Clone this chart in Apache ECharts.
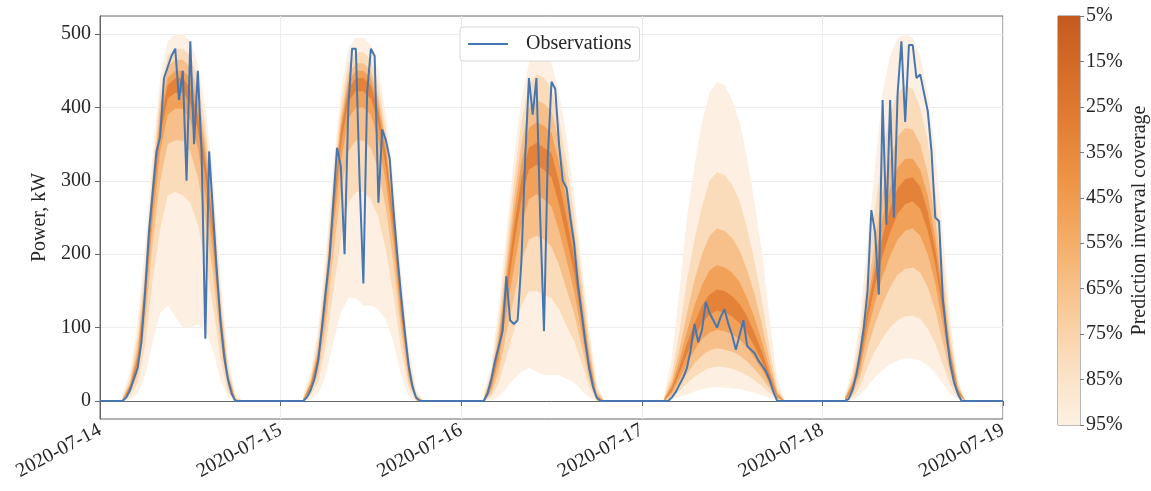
<!DOCTYPE html>
<html><head><meta charset="utf-8">
<script src="https://cdn.jsdelivr.net/npm/echarts@6/dist/echarts.min.js"></script>
<style>html,body{margin:0;padding:0;background:#fff}#c{width:1151px;height:491px}</style>
</head><body><div id="c"></div>
<script>
// ---------------- DATA ----------------
const xTickLabels = ['2020-07-14','2020-07-15','2020-07-16','2020-07-17','2020-07-18','2020-07-19'];
const yTicks = [0, 100, 200, 300, 400, 500];
const coverageTicks = [5, 15, 25, 35, 45, 55, 65, 75, 85, 95];

// hours of day (UTC) of the observation samples and of the forecast quantiles
const obsHours = [3,3.5,4,4.5,5,5.5,6,6.5,7,7.5,8,8.5,9,9.5,10,10.5,11,11.5,12,12.5,13,13.5,14,14.5,15,15.5,16,16.5,17,17.5,18,18.5];
const bandHours = [3,4,5,6,7,8,9,10,11,12,13,14,15,16,17,18,19];
const obsEdges = [0, 0]; // 2020-07-14 00:00 and 2020-07-19 00:00

// Observations, kW
const obs14 = [0,5,15,30,45,80,150,230,285,340,360,440,455,470,480,410,450,300,490,350,450,340,85,340,260,180,110,60,30,10,0,0];
const obs15 = [0,5,15,30,55,100,150,195,270,345,320,200,400,480,480,300,160,420,480,470,270,370,355,330,260,200,145,95,50,20,5,0];
const obs16 = [0,10,30,55,75,95,170,110,105,110,190,330,440,390,440,250,95,330,435,425,350,300,290,250,215,160,120,80,45,20,5,0];
const obs17 = [0,0,5,12,22,32,45,70,105,80,97,135,120,110,100,115,125,105,90,70,90,110,75,70,65,55,48,40,28,12,0,0];
const obs18 = [0,3,15,35,65,100,150,260,230,145,410,240,410,250,420,490,380,485,485,440,445,420,395,340,250,245,140,90,50,25,10,0];

// Prediction interval bounds (kW), one line per day (07-14 ... 07-18), at bandHours
const lo95 = [
  0,2,10,35,80,120,130,115,100,100,105,95,70,30,5,0,0,
  0,2,10,35,80,120,140,140,130,130,125,110,80,35,7,0,0,
  0,1,6,18,30,40,45,40,35,35,35,30,25,15,5,0,0,
  0,2,5,9,13,16,18,19,18,17,16,14,11,8,4,1,0,
  0,1,8,20,32,42,50,55,58,58,55,48,38,24,10,2,0];
const hi95 = [
  10,40,110,210,340,440,490,500,500,490,460,400,310,170,60,10,0,
  8,40,100,200,320,420,480,495,495,485,450,390,300,180,75,15,0,
  10,50,130,230,330,410,460,480,475,460,420,360,280,190,100,25,0,
  10,60,150,250,320,380,420,435,430,410,380,330,270,200,110,30,0,
  8,45,110,220,320,420,470,495,500,495,470,420,340,230,110,30,0];
const lo75 = [
  0,7,25,75,165,235,280,285,280,270,240,190,130,58,12,0,0,
  0,8,26,75,150,220,270,285,285,275,250,205,145,72,19,0,0,
  0,6,25,60,95,130,150,150,145,140,125,102,82,52,20,0,0,
  0,5,14,24,33,40,45,47,46,44,40,35,28,20,11,2,0,
  0,5,20,46,68,86,100,110,115,116,112,98,78,50,23,4,0];
const hi75 = [
  5,30,90,185,315,420,470,480,480,470,440,375,285,150,48,5,0,
  5,32,85,180,300,400,460,475,475,465,430,370,280,160,62,10,0,
  6,40,110,205,300,380,430,445,440,425,385,325,255,170,85,18,0,
  6,38,95,165,220,265,300,312,308,295,272,235,190,135,72,18,0,
  5,35,88,180,262,340,390,420,430,425,400,355,285,192,90,24,0];
const lo55 = [
  0,11,36,105,215,300,350,355,355,340,305,245,175,80,18,0,0,
  0,12,38,102,200,285,340,355,355,345,315,262,188,96,28,1,0,
  0,11,40,92,140,190,220,225,220,210,185,152,120,75,29,1,0,
  0,8,22,37,51,62,69,72,70,67,62,54,43,31,17,3,0,
  0,9,32,72,105,132,155,172,180,182,175,155,124,80,37,7,0];
const hi55 = [
  3,25,75,170,300,405,455,465,465,455,420,355,265,135,40,3,0,
  3,27,75,165,285,385,445,460,460,450,415,355,265,148,55,7,0,
  4,33,95,185,275,350,400,410,405,395,355,300,232,152,72,12,0,
  4,28,70,120,165,200,225,235,232,222,205,178,145,103,55,13,0,
  4,28,74,152,220,285,330,360,372,370,350,310,248,167,77,20,0];
const lo35 = [
  0,14,45,125,245,340,390,398,398,382,345,280,205,96,23,0,0,
  0,16,48,122,232,325,385,400,400,390,355,297,215,112,35,2,0,
  0,16,55,120,180,240,275,282,275,265,232,192,150,94,38,2,0,
  0,11,30,50,69,84,93,97,95,91,84,73,58,42,23,4,0,
  0,13,42,94,135,170,198,220,232,235,225,200,160,104,48,10,0];
const hi35 = [
  2,22,65,160,290,390,440,450,450,440,405,340,250,125,35,2,0,
  2,24,68,155,275,375,435,450,450,440,405,345,255,140,50,5,0,
  3,28,85,170,255,325,372,380,375,365,325,275,212,138,62,8,0,
  3,22,56,95,130,158,178,185,182,175,162,140,113,80,43,10,0,
  3,24,65,135,195,250,290,318,330,330,315,280,222,150,68,17,0];
const lo15 = [
  1,17,52,138,265,362,412,420,420,405,370,305,225,108,28,1,0,
  1,19,55,135,250,348,408,422,422,412,378,318,232,123,41,3,0,
  1,20,66,140,210,275,315,322,315,305,268,222,175,110,46,3,0,
  1,14,38,64,87,106,118,123,121,115,106,92,74,53,29,6,0,
  1,17,50,110,158,198,230,255,268,272,262,232,186,122,56,12,0];
const hi15 = [
  1,20,58,150,280,380,430,440,440,425,390,325,240,118,32,1,0,
  1,22,62,147,266,365,425,440,440,430,395,335,247,133,46,4,0,
  2,24,76,157,235,302,345,352,345,338,298,250,195,125,54,5,0,
  2,18,46,78,106,130,145,152,150,143,132,115,92,66,36,8,0,
  2,21,58,125,178,225,262,290,302,305,292,258,206,138,63,15,0];

// ---------------- BUILD ----------------
const FONT = 'Liberation Serif';
const TXT = '#262626';
const obsDays = [obs14, obs15, obs16, obs17, obs18];
const levels = [
  {key: '95', lo: lo95, hi: hi95, color: '#fdf0e2'},
  {key: '75', lo: lo75, hi: hi75, color: '#fadcba'},
  {key: '55', lo: lo55, hi: hi55, color: '#f7c08b'},
  {key: '35', lo: lo35, hi: hi35, color: '#f2a159'},
  {key: '15', lo: lo15, hi: hi15, color: '#e4823a'}
];
const nB = bandHours.length;

const series = [];
levels.forEach(lv => {
  // one data item per day: [x of first quantile sample, its lower bound, day index]
  const items = obsDays.map((_, d) => [d * 24 + bandHours[0], lv.lo[d * nB], d]);
  series.push({
    type: 'custom', name: 'band' + lv.key, xAxisIndex: 0, yAxisIndex: 0, silent: true, z: 1,
    data: items, encode: {x: 0, y: 1},
    renderItem: function (params, api) {
      const d = api.value(2);
      const pts = [];
      for (let j = 0; j < nB; j++) pts.push(api.coord([d * 24 + bandHours[j], lv.hi[d * nB + j]]));
      for (let j = nB - 1; j >= 0; j--) pts.push(api.coord([d * 24 + bandHours[j], lv.lo[d * nB + j]]));
      return {type: 'polygon', shape: {points: pts}, style: {fill: lv.color, stroke: null}};
    }
  });
});

const obsData = [[0, obsEdges[0]]];
obsDays.forEach((arr, d) => arr.forEach((v, i) => obsData.push([d * 24 + obsHours[i], v])));
obsData.push([24 * (xTickLabels.length - 1), obsEdges[1]]);

series.push({type: 'line', name: 'Observations', data: obsData, symbol: 'none', z: 5,
  lineStyle: {color: '#4677b3', width: 2}, itemStyle: {color: '#4677b3'}, xAxisIndex: 0, yAxisIndex: 0});

// colorbar
series.push({type: 'bar', xAxisIndex: 1, yAxisIndex: 1, stack: 'cb', barWidth: '100%', silent: true,
  data: [coverageTicks[0]], itemStyle: {color: 'rgba(0,0,0,0)'}});
series.push({type: 'bar', xAxisIndex: 1, yAxisIndex: 1, stack: 'cb', barWidth: '100%', silent: true,
  data: [coverageTicks[coverageTicks.length - 1] - coverageTicks[0]],
  itemStyle: {color: {type: 'linear', x: 0, y: 0, x2: 0, y2: 1, colorStops: [
    {offset: 0, color: '#c35b1f'}, {offset: 0.12, color: '#d26b27'}, {offset: 0.25, color: '#e07c33'},
    {offset: 0.4, color: '#ee9445'}, {offset: 0.55, color: '#f4ad66'}, {offset: 0.68, color: '#f7c48d'},
    {offset: 0.8, color: '#fad7b0'}, {offset: 0.9, color: '#fbe5cc'}, {offset: 1, color: '#fdf0e2'}]}}});

const option = {
  animation: false,
  backgroundColor: '#fff',
  textStyle: {fontFamily: FONT, color: TXT},
  legend: {
    data: ['Observations'], left: 460, top: 27, padding: [7, 8], icon: 'rect',
    itemWidth: 40, itemHeight: 2, backgroundColor: '#fff',
    borderColor: '#d6d6d6', borderWidth: 1, borderRadius: 3,
    textStyle: {fontFamily: FONT, fontSize: 20, color: TXT, padding: [0, 0, 0, 13]}
  },
  grid: [
    {left: 100, right: 148, top: 16, bottom: 72, show: true, borderColor: '#666', borderWidth: 1},
    {left: 1058, width: 23, top: 16, height: 409, show: true, borderColor: '#777', borderWidth: 1}
  ],
  xAxis: [
    {type: 'value', gridIndex: 0, min: 0, max: 24 * (xTickLabels.length - 1), interval: 24,
      axisLine: {lineStyle: {color: '#666'}}, axisTick: {show: true, inside: false, length: 5, lineStyle: {color: '#666'}},
      splitLine: {show: true, lineStyle: {color: '#ececec'}},
      axisLabel: {rotate: 28, margin: 10, fontSize: 20, fontFamily: FONT, color: TXT,
        formatter: v => xTickLabels[Math.round(v / 24)]}},
    {type: 'category', gridIndex: 1, data: ['cb'], show: false}
  ],
  yAxis: [
    {type: 'value', gridIndex: 0, min: -24.5, max: 524.5,
      name: 'Power, kW', nameLocation: 'middle', nameRotate: 90, nameGap: 40,
      nameTextStyle: {fontSize: 20, fontFamily: FONT, color: TXT},
      axisLine: {show: true, lineStyle: {color: '#666'}},
      axisTick: {show: true, inside: false, length: 5, customValues: yTicks, lineStyle: {color: '#666'}},
      axisLabel: {customValues: yTicks, fontSize: 20, fontFamily: FONT, color: TXT, margin: 9},
      splitLine: {show: true, lineStyle: {color: '#ececec'}}},
    {type: 'value', gridIndex: 1, min: coverageTicks[0], max: coverageTicks[coverageTicks.length - 1], inverse: true,
      position: 'right',
      name: 'Prediction inverval coverage', nameLocation: 'middle', nameRotate: 90, nameGap: 50,
      nameTextStyle: {fontSize: 20, fontFamily: FONT, color: TXT},
      axisLine: {show: false},
      axisTick: {show: true, inside: false, length: 4, customValues: coverageTicks, lineStyle: {color: '#777'}},
      axisLabel: {customValues: coverageTicks, formatter: '{value}%', fontSize: 20, fontFamily: FONT, color: TXT, margin: 6},
      splitLine: {show: false}}
  ],
  series: series
};

const chart = echarts.init(document.getElementById('c'), null, {renderer: 'canvas'});
chart.setOption(option);
</script>
</body></html>
